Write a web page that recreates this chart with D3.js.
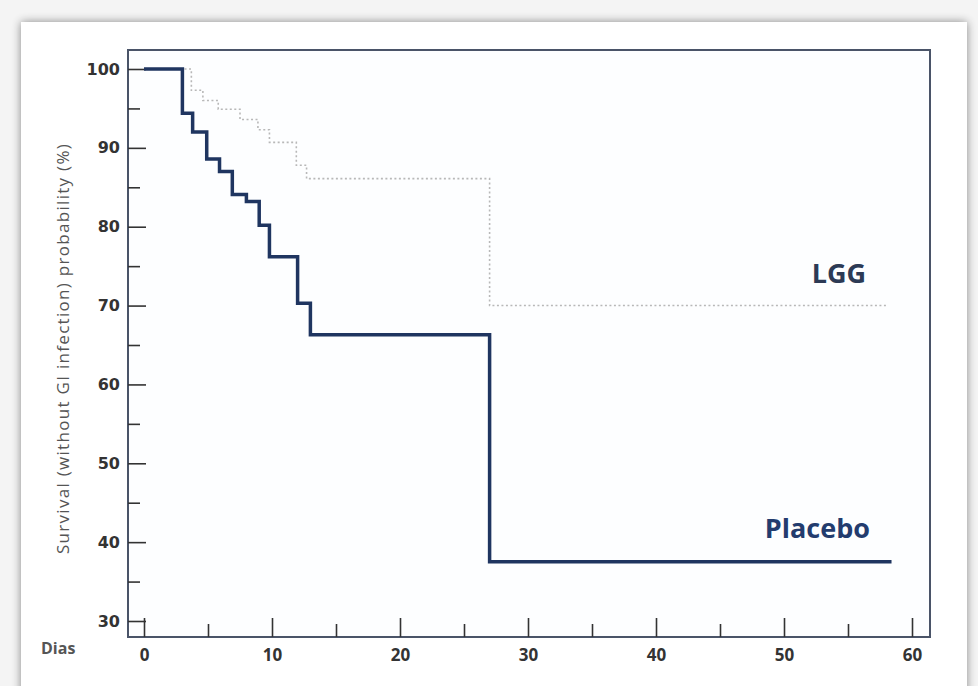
<!DOCTYPE html>
<html>
<head>
<meta charset="utf-8">
<script src="https://cdn.jsdelivr.net/npm/d3@7"></script>
<style>
  html, body { margin: 0; padding: 0; background: #eeeeee; }
  svg { display: block; }
</style>
</head>
<body>
<svg id="chart" width="978" height="686"></svg>
<script>
// ---- data ----
const placeboDays   = [0, 3, 3.8, 4.9, 5.9, 6.9, 8, 9, 9.8, 12, 13, 27, 58.4];
const placeboValues = [100, 94.4, 92.0, 88.6, 87.0, 84.1, 83.2, 80.2, 76.2, 70.3, 66.3, 37.5, 37.5];
const lggDays       = [0, 3.7, 4.6, 5.8, 7.5, 8.9, 9.8, 11.9, 12.7, 27, 58];
const lggValues     = [100, 97.3, 96.0, 94.9, 93.6, 92.3, 90.7, 87.8, 86.1, 70.0, 70.0];
const xMajorTicks   = [0, 10, 20, 30, 40, 50, 60];
const xMinorTicks   = [5, 15, 25, 35, 45, 55];
const yMajorTicks   = [30, 40, 50, 60, 70, 80, 90, 100];
const yMinorTicks   = [35, 45, 55, 65, 75, 85, 95];
const seriesNames   = ["LGG", "Placebo"];
const yTitle = "Survival (without GI infection) probability (%)";
const xTitle = "Dias";

const svg = d3.select("#chart");

// card background (photographed slide look)
const defs = svg.append("defs");
const f = defs.append("filter").attr("id", "shadow").attr("x", "-5%").attr("y", "-5%").attr("width", "110%").attr("height", "110%");
f.append("feGaussianBlur").attr("in", "SourceAlpha").attr("stdDeviation", 5);
f.append("feOffset").attr("dx", 0).attr("dy", 0).attr("result", "b");
f.append("feComponentTransfer").append("feFuncA").attr("type", "linear").attr("slope", 0.45);
const m = f.append("feMerge"); m.append("feMergeNode"); m.append("feMergeNode").attr("in", "SourceGraphic");
svg.append("rect").attr("x", 0).attr("y", 0).attr("width", 978).attr("height", 686).attr("fill", "#f4f4f4");
svg.append("rect").attr("x", 21).attr("y", 22).attr("width", 946).attr("height", 680)
  .attr("fill", "#ffffff").attr("filter", "url(#shadow)");

// plot frame
const frame = {left: 128, top: 50, right: 930, bottom: 637};
const x = d3.scaleLinear().domain([0, 60]).range([144, 912]);
const y = d3.scaleLinear().domain([30, 100]).range([621, 69]);

svg.append("rect")
  .attr("x", frame.left).attr("y", frame.top)
  .attr("width", frame.right - frame.left).attr("height", frame.bottom - frame.top)
  .attr("fill", "#fdfeff").attr("stroke", "#4a5468").attr("stroke-width", 2);

// x axis (ticks pointing inward / up)
const tickFont = "'Liberation Sans Narrow', 'Open Sans', sans-serif";
const gxMaj = svg.append("g").attr("transform", `translate(0,${frame.bottom})`)
  .call(d3.axisBottom(x).tickValues(xMajorTicks).tickSize(-19).tickPadding(12).tickFormat(d3.format("d")));
const gxMin = svg.append("g").attr("transform", `translate(0,${frame.bottom})`)
  .call(d3.axisBottom(x).tickValues(xMinorTicks).tickSize(-13).tickFormat(""));
[gxMaj, gxMin].forEach(g => {
  g.select(".domain").remove();
  g.selectAll(".tick line").attr("stroke", "#333").attr("stroke-width", 1.6);
});
gxMaj.selectAll(".tick text")
  .attr("fill", "#333").style("font-family", tickFont).style("font-weight", "bold").style("font-size", "17px");

// y axis (ticks pointing inward / right)
const gyMaj = svg.append("g").attr("transform", `translate(${frame.left},0)`)
  .call(d3.axisLeft(y).tickValues(yMajorTicks).tickSize(-18).tickPadding(8).tickFormat(d3.format("d")));
const gyMin = svg.append("g").attr("transform", `translate(${frame.left},0)`)
  .call(d3.axisLeft(y).tickValues(yMinorTicks).tickSize(-12).tickFormat(""));
[gyMaj, gyMin].forEach(g => {
  g.select(".domain").remove();
  g.selectAll(".tick line").attr("stroke", "#333").attr("stroke-width", 1.6);
});
gyMaj.selectAll(".tick text")
  .attr("fill", "#333").style("font-family", "'DejaVu Sans', sans-serif").style("font-weight", "bold").style("font-size", "16px");

// axis titles
svg.append("text")
  .attr("transform", `translate(64,${(135 + 562) / 2}) rotate(-90)`)
  .attr("text-anchor", "middle").attr("dominant-baseline", "middle")
  .attr("fill", "#555").style("font-family", "'Open Sans', sans-serif").style("font-size", "17px")
  .style("letter-spacing", "1.3px")
  .text(yTitle);
svg.append("text")
  .attr("x", 41).attr("y", 654)
  .attr("fill", "#555").style("font-family", tickFont).style("font-weight", "bold").style("font-size", "16px")
  .text(xTitle);

// survival curves
const line = d3.line().x(d => x(d[0])).y(d => y(d[1])).curve(d3.curveStepAfter);
const lggData = lggDays.map((d, i) => [d, lggValues[i]]);
const placeboData = placeboDays.map((d, i) => [d, placeboValues[i]]);

svg.append("path").datum(lggData).attr("d", line)
  .attr("fill", "none").attr("stroke", "#b8b8b8").attr("stroke-width", 1.6)
  .attr("stroke-dasharray", "2,2.5");
svg.append("path").datum(placeboData).attr("d", line)
  .attr("fill", "none").attr("stroke", "#1f3560").attr("stroke-width", 3.5)
  .attr("stroke-linejoin", "miter");

// series labels
svg.append("text").attr("x", 866).attr("y", 283).attr("text-anchor", "end")
  .attr("fill", "#2c3a55").style("font-family", "'Open Sans', sans-serif").style("font-weight", "bold").style("font-size", "27px")
  .text(seriesNames[0]);
svg.append("text").attr("x", 870).attr("y", 538).attr("text-anchor", "end")
  .attr("fill", "#233c6e").style("font-family", "'Open Sans', sans-serif").style("font-weight", "bold").style("font-size", "27px")
  .text(seriesNames[1]);
</script>
</body>
</html>
